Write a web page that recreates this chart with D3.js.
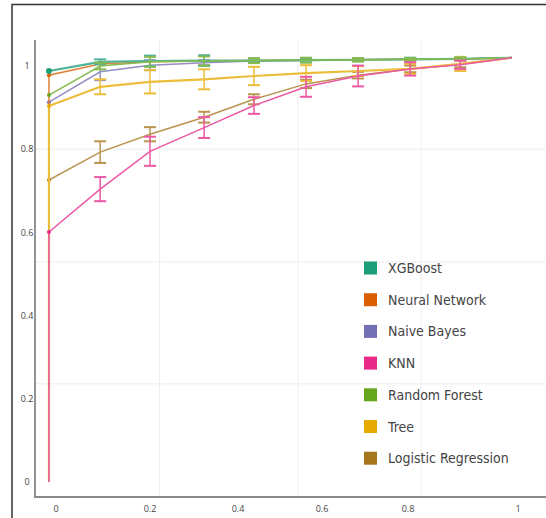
<!DOCTYPE html>
<html>
<head>
<meta charset="utf-8">
<script src="https://cdn.jsdelivr.net/npm/d3@7"></script>
<style>
  body { margin: 0; background: #fff; }
  svg { display: block; }
</style>
</head>
<body>
<div id="chart"></div>
<script>
// Data
// ================================
var fpr = [-0.015, -0.015, 0.094, 0.2, 0.323, 0.438, 0.562, 0.684, 0.804, 0.895, 0.989];

var names = ["XGBoost", "Neural Network", "Naive Bayes", "KNN", "Random Forest", "Tree", "Logistic Regression"];
var colors = ["#1b9e77", "#d95f02", "#7570b3", "#e7298a", "#66a61e", "#e6ab02", "#a6761d"];

var xgbTpr  = [0, 0.988, 1.010, 1.012, 1.013, 1.013, 1.014, 1.015, 1.016, 1.017, 1.02];
var nnTpr   = [0, 0.978, 1.005, 1.010, 1.012, 1.013, 1.014, 1.015, 1.016, 1.017, 1.02];
var nbTpr   = [0, 0.913, 0.986, 1.002, 1.008, 1.012, 1.013, 1.015, 1.016, 1.017, 1.02];
var knnTpr  = [0, 0.601, 0.704, 0.795, 0.852, 0.905, 0.950, 0.976, 0.993, 1.003, 1.02];
var rfTpr   = [0, 0.930, 1.000, 1.010, 1.012, 1.013, 1.014, 1.015, 1.016, 1.017, 1.02];
var treeTpr = [0, 0.904, 0.950, 0.962, 0.968, 0.976, 0.983, 0.988, 0.993, 1.005, 1.02];
var lrTpr   = [0, 0.726, 0.793, 0.836, 0.877, 0.920, 0.957, 0.978, 0.993, 1.005, 1.02];

var xgbErr  = [0, 0, 0.006, 0.013, 0.013, 0.005, 0.005, 0.004, 0.004, 0.003, 0];
var nnErr   = [0, 0, 0, 0, 0, 0, 0, 0, 0, 0, 0];
var nbErr   = [0, 0, 0.020, 0.012, 0.006, 0, 0, 0, 0, 0, 0];
var knnErr  = [0, 0, 0.029, 0.035, 0.025, 0.020, 0.024, 0.025, 0.016, 0.010, 0];
var rfErr   = [0, 0, 0.008, 0.012, 0.011, 0.006, 0.006, 0.004, 0.003, 0.003, 0];
var treeErr = [0, 0, 0.018, 0.028, 0.024, 0.022, 0.019, 0.012, 0.012, 0.017, 0];
var lrErr   = [0, 0, 0.026, 0.017, 0.013, 0.012, 0.010, 0.008, 0.008, 0.008, 0];

var xTicks = [0, 0.2, 0.4, 0.6, 0.8, 1];
var xTickLabels = ["0", "0.2", "0.4", "0.6", "0.8", "1"];
var yTicks = [0, 0.2, 0.4, 0.6, 0.8, 1];
var yTickLabels = ["0", "0.2", "0.4", "0.6", "0.8", "1"];
var gridX = [0.222, 0.543, 0.824];
var gridY = [0.236, 0.529, 0.8];

// legend order top to bottom, drawing order for the curves
var legendOrder = [0, 1, 2, 3, 4, 5, 6];
var drawOrder = [2, 6, 1, 5, 0, 4, 3];
// the vertical piece at fpr≈0 is hidden under other curves for these
var hideVertical = [true, false, true, false, true, false, false];

var tprs = [xgbTpr, nnTpr, nbTpr, knnTpr, rfTpr, treeTpr, lrTpr];
var errs = [xgbErr, nnErr, nbErr, knnErr, rfErr, treeErr, lrErr];

// Set up chart
// ================================
var svgWidth = 546;
var svgHeight = 518;

var svg = d3.select("#chart")
  .append("svg")
  .attr("width", svgWidth)
  .attr("height", svgHeight);

// the picture's x axis is not evenly spaced, so use a piecewise scale
var xScale = d3.scaleLinear()
  .domain([0, 0.2, 0.4, 0.6, 0.8, 1])
  .range([56, 150, 238, 322, 408, 518]);

var yScale = d3.scaleLinear()
  .domain([0, 1])
  .range([482, 66]);

var font = "'Open Sans', 'Noto Sans', sans-serif";

// washed-out line colours, like the scanned figure
var lineColor = c => d3.interpolateRgb(c, "#fff")(0.22);

// outer frame
svg.append("path")
  .attr("d", "M12,518 V4.5 H546")
  .attr("fill", "none")
  .attr("stroke", "#333")
  .attr("stroke-width", 1.5);

// faint grid
svg.append("g").selectAll("line")
  .data(gridY)
  .enter()
  .append("line")
  .attr("x1", 36).attr("x2", 546)
  .attr("y1", d => yScale(d)).attr("y2", d => yScale(d))
  .attr("stroke", "#ececec");

svg.append("g").selectAll("line")
  .data(gridX)
  .enter()
  .append("line")
  .attr("x1", d => xScale(d)).attr("x2", d => xScale(d))
  .attr("y1", 40).attr("y2", 496)
  .attr("stroke", "#efefef");

// axes
svg.append("line")
  .attr("x1", 35).attr("x2", 35)
  .attr("y1", 40).attr("y2", 497)
  .attr("stroke", "#888")
  .attr("stroke-width", 1.8);

svg.append("line")
  .attr("x1", 34).attr("x2", 546)
  .attr("y1", 497).attr("y2", 497)
  .attr("stroke", "#888")
  .attr("stroke-width", 1.8);

svg.append("g").selectAll("text")
  .data(yTicks)
  .enter()
  .append("text")
  .attr("x", 27)
  .attr("y", d => yScale(d))
  .attr("dy", "0.35em")
  .attr("text-anchor", "middle")
  .style("font-family", font)
  .style("font-size", "9px")
  .attr("fill", "#444")
  .text((d, i) => yTickLabels[i]);

svg.append("g").selectAll("text")
  .data(xTicks)
  .enter()
  .append("text")
  .attr("x", d => xScale(d))
  .attr("y", 512)
  .attr("text-anchor", "middle")
  .style("font-family", font)
  .style("font-size", "9px")
  .attr("fill", "#444")
  .text((d, i) => xTickLabels[i]);

// curves
var line = d3.line()
  .x(d => xScale(d.x))
  .y(d => yScale(d.y));

var curves = svg.append("g");

drawOrder.forEach(function (k) {
  var g = curves.append("g");
  var c = lineColor(colors[k]);
  var pts = tprs[k].map((v, i) => ({ x: fpr[i], y: v, e: errs[k][i] }));

  g.append("path")
    .datum(hideVertical[k] ? pts.slice(1) : pts)
    .attr("d", line)
    .attr("fill", "none")
    .attr("stroke", c)
    .attr("stroke-width", k === 0 ? 2.2 : (k === 5 ? 2.2 : 1.5));

  // error bars
  var bars = pts.filter(p => p.e > 0);

  g.selectAll("line.bar")
    .data(bars)
    .enter()
    .append("line")
    .attr("x1", d => xScale(d.x)).attr("x2", d => xScale(d.x))
    .attr("y1", d => yScale(d.y - d.e)).attr("y2", d => yScale(d.y + d.e))
    .attr("stroke", c)
    .attr("stroke-width", 1.5);

  [-1, 1].forEach(function (s) {
    g.selectAll("line.cap" + s)
      .data(bars)
      .enter()
      .append("line")
      .attr("x1", d => xScale(d.x) - 6).attr("x2", d => xScale(d.x) + 6)
      .attr("y1", d => yScale(d.y + s * d.e)).attr("y2", d => yScale(d.y + s * d.e))
      .attr("stroke", c)
      .attr("stroke-width", 2);
  });

  // start point dot
  g.append("circle")
    .attr("cx", xScale(fpr[1]))
    .attr("cy", yScale(tprs[k][1]))
    .attr("r", k === 0 ? 3 : 2)
    .attr("fill", colors[k]);
});

// legend
var legend = svg.append("g");

legendOrder.forEach(function (k, row) {
  var cy = 268 + row * 31.7;
  legend.append("rect")
    .attr("x", 364)
    .attr("y", cy - 6.5)
    .attr("width", 13)
    .attr("height", 13)
    .attr("fill", colors[k]);

  legend.append("text")
    .attr("x", 388)
    .attr("y", cy)
    .attr("dy", "0.36em")
    .style("font-family", "'Liberation Sans Narrow', 'DejaVu Sans Condensed', 'Open Sans', sans-serif")
    .style("font-stretch", "condensed")
    .style("font-size", "14px")
    .attr("fill", "#444")
    .text(names[k]);
});
</script>
</body>
</html>
